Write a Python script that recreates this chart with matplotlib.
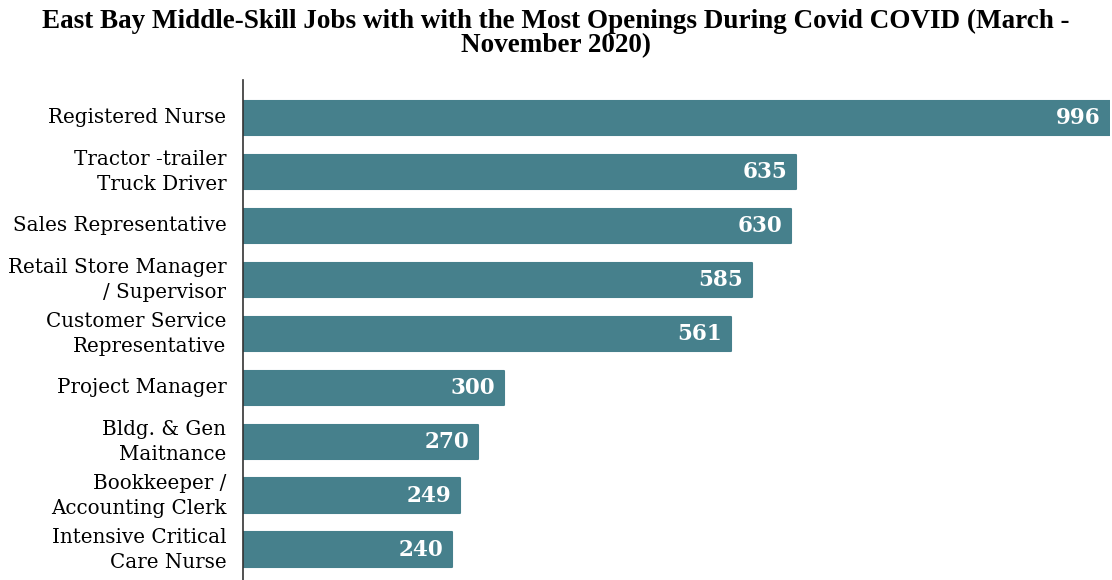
import matplotlib.pyplot as plt

# Дані з графіка
jobs = [
    "Registered Nurse",
    "Tractor -trailer\nTruck Driver",
    "Sales Representative",
    "Retail Store Manager\n/ Supervisor",
    "Customer Service\nRepresentative",
    "Project Manager",
    "Bldg. & Gen\nMaitnance",
    "Bookkeeper /\nAccounting Clerk",
    "Intensive Critical\nCare Nurse",
]
openings = [996, 635, 630, 585, 561, 300, 270, 249, 240]

bar_color = "#46808c"

fig = plt.figure(figsize=(11.12, 5.8), dpi=100)
ax = fig.add_axes([0.2185, 0.0, 0.7795, 0.862])

positions = list(range(len(jobs)))
ax.barh(positions, openings, height=0.64, color=bar_color,
        edgecolor=bar_color, linewidth=1.5, joinstyle="round")

for pos, val in zip(positions, openings):
    ax.text(val - 10, pos, str(val), ha="right", va="center", color="white",
            fontsize=15.5, fontweight="bold", family="DejaVu Serif")

ax.set_xlim(0, 996)
ax.set_ylim(8.56, -0.70)
ax.set_yticks(positions)
ax.set_yticklabels(jobs, family="DejaVu Serif", fontsize=14.3, linespacing=1.4,
                   va="center")
ax.tick_params(axis="y", length=0, pad=12)
ax.set_xticks([])

for side in ["top", "right", "bottom"]:
    ax.spines[side].set_visible(False)
ax.spines["left"].set_color("#333333")
ax.spines["left"].set_linewidth(1.2)

fig.text(0.5, 0.985, "East Bay Middle-Skill Jobs with with the Most Openings During Covid COVID (March -\nNovember 2020)",
         ha="center", va="top", fontsize=19.5, fontweight="bold", family="Liberation Serif",
         linespacing=0.98)

fig.savefig("out.png", dpi=100)
